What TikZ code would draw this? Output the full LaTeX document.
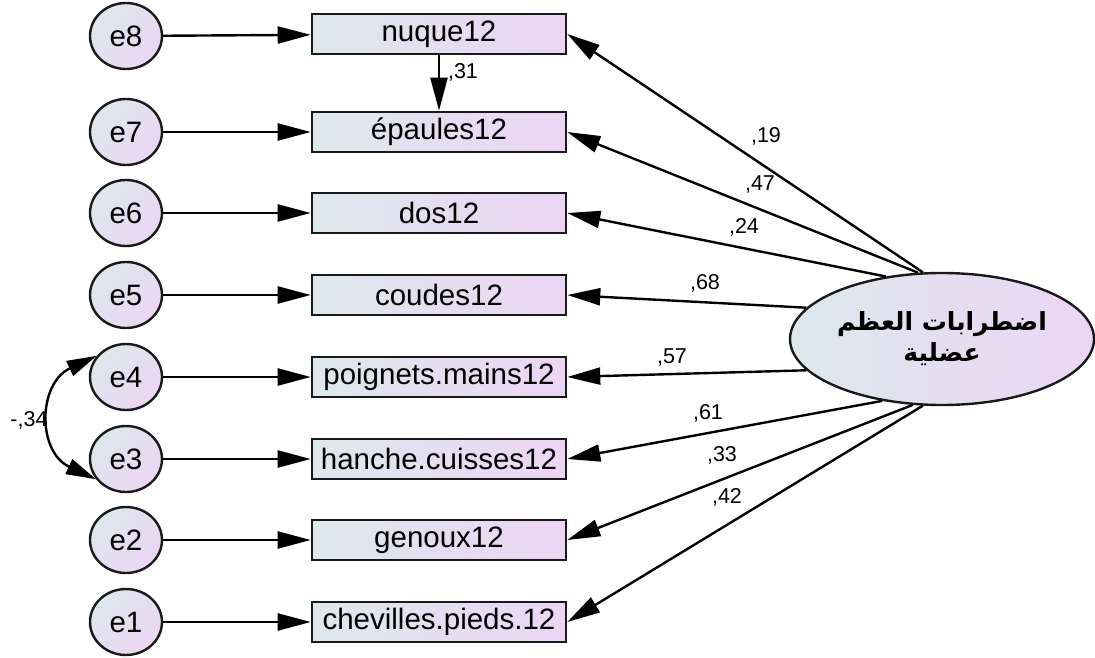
\documentclass[tikz,border=0pt]{standalone}
\usepackage{fontspec}
\setmainfont{Liberation Sans}
\newfontfamily\arabicfont[Script=Arabic]{DejaVu Sans}
\TeXXeTstate=1
\usetikzlibrary{arrows.meta,shapes.geometric}

\definecolor{shadeL}{RGB}{221,232,236}
\definecolor{shadeR}{RGB}{236,213,244}
\definecolor{edge}{RGB}{25,25,25}

\begin{document}
\begin{tikzpicture}[x=1pt,y=1pt,
  every node/.style={font=\fontsize{29.5}{34}\selectfont},
  obs/.style={rectangle, draw=edge, line width=2.6pt, minimum width=254pt,
    minimum height=40pt, inner sep=0pt, left color=shadeL, right color=shadeR},
  err/.style={ellipse, draw=edge, line width=2.4pt, minimum width=72pt,
    minimum height=66pt, inner sep=0pt, top color=shadeL, bottom color=shadeR,
    shading angle=45},
  lat/.style={ellipse, draw=edge, line width=2.4pt, minimum width=304pt,
    minimum height=132pt, inner sep=0pt, left color=shadeL, right color=shadeR,
    align=center, font=\arabicfont\bfseries\fontsize{25}{31}\selectfont},
  reg/.style={-{Triangle[length=33pt,width=17pt]}, line width=2.4pt, draw=black},
  cov/.style={{Triangle[length=30pt,width=16pt]}-{Triangle[length=30pt,width=16pt]},
    line width=2.4pt, draw=black},
  coef/.style={font=\fontsize{21.5}{24}\selectfont, inner sep=0pt}
]
\useasboundingbox (0,0) rectangle (1095,-658);

% observed indicators
\node[obs] (nuque) at (439,-34)  {nuque12};
\node[obs] (epau)  at (439,-132) {épaules12};
\node[obs] (dos)   at (439,-213) {dos12};
\node[obs] (coud)  at (439,-295) {coudes12};
\node[obs] (poig)  at (439,-377) {poignets.mains12};
\node[obs] (hanc)  at (439,-459) {hanche.cuisses12};
\node[obs] (geno)  at (439,-540) {genoux12};
\node[obs] (chev)  at (439,-622) {chevilles.pieds.12};

% error terms
\node[err] (e8) at (126,-36)  {e8};
\node[err] (e7) at (126,-132) {e7};
\node[err] (e6) at (126,-213) {e6};
\node[err] (e5) at (126,-295) {e5};
\node[err] (e4) at (126,-377) {e4};
\node[err] (e3) at (126,-459) {e3};
\node[err] (e2) at (126,-540) {e2};
\node[err] (e1) at (126,-622) {e1};

% latent factor
\node[lat] (F) at (942,-339) {\beginR اضطرابات العظم\endR\\\beginR عضلية\endR};

% error paths
\draw[reg] (e8) -- (nuque);
\draw[reg] (e7) -- (epau);
\draw[reg] (e6) -- (dos);
\draw[reg] (e5) -- (coud);
\draw[reg] (e4) -- (poig);
\draw[reg] (e3) -- (hanc);
\draw[reg] (e2) -- (geno);
\draw[reg] (e1) -- (chev);

% loadings
\draw[reg] (F.106) -- (nuque.east);
\draw[reg] (F.110) -- (epau.east);
\draw[reg] (F.132) -- (dos.east);
\draw[reg] (F.167) -- (coud.east);
\draw[reg] (F.193) -- (poig.east);
\draw[reg] (F.226) -- (hanc.east);
\draw[reg] (F.246) -- (geno.east);
\draw[reg] (F.254) -- (chev.east);

% path between indicators
\draw[reg] (nuque.south) -- (epau.north);

% error covariance
\draw[cov] (e4.144) to[out=205, in=155, looseness=1.35] (e3.214);

% coefficients
\node[coef] (c19) at (766,-136) {,19};
\node[coef] (c47) at (760,-184) {,47};
\node[coef] (c24) at (744,-227) {,24};
\node[coef] (c68) at (705,-283) {,68};
\node[coef] (c57) at (672,-357) {,57};
\node[coef] (c61) at (708,-413) {,61};
\node[coef] (c33) at (722,-455) {,33};
\node[coef] (c42) at (727,-497) {,42};
\node[coef] (c31) at (463,-72)  {,31};
\node[coef] (c34) at (29,-420)  {-,34};
\end{tikzpicture}
\end{document}
